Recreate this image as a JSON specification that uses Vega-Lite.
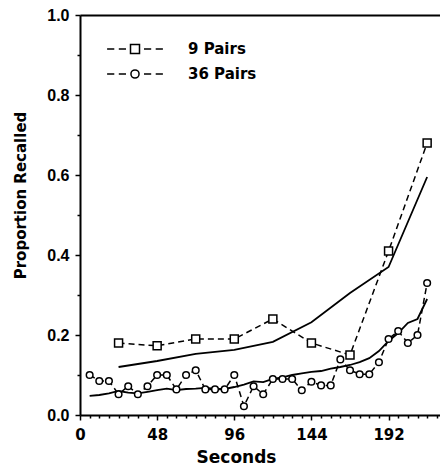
{
  "$schema": "https://vega.github.io/schema/vega-lite/v6.json",
  "width": 360,
  "height": 400,
  "autosize": {"type": "none"},
  "padding": {"left": 80, "top": 15, "right": 0, "bottom": 52},
  "background": "white",
  "config": {"view": {"stroke": null}, "font": "DejaVu Sans"},
  "datasets": {
    "observed": [
      {"series": "9 Pairs", "t": 24, "p": 0.18},
      {"series": "9 Pairs", "t": 48, "p": 0.173},
      {"series": "9 Pairs", "t": 72, "p": 0.19},
      {"series": "9 Pairs", "t": 96, "p": 0.19},
      {"series": "9 Pairs", "t": 120, "p": 0.24},
      {"series": "9 Pairs", "t": 144, "p": 0.18},
      {"series": "9 Pairs", "t": 168, "p": 0.15},
      {"series": "9 Pairs", "t": 192, "p": 0.41},
      {"series": "9 Pairs", "t": 216, "p": 0.68},
      {"series": "36 Pairs", "t": 6, "p": 0.1},
      {"series": "36 Pairs", "t": 12, "p": 0.085},
      {"series": "36 Pairs", "t": 18, "p": 0.085},
      {"series": "36 Pairs", "t": 24, "p": 0.052},
      {"series": "36 Pairs", "t": 30, "p": 0.072},
      {"series": "36 Pairs", "t": 36, "p": 0.052},
      {"series": "36 Pairs", "t": 42, "p": 0.072},
      {"series": "36 Pairs", "t": 48, "p": 0.1},
      {"series": "36 Pairs", "t": 54, "p": 0.1},
      {"series": "36 Pairs", "t": 60, "p": 0.064},
      {"series": "36 Pairs", "t": 66, "p": 0.1},
      {"series": "36 Pairs", "t": 72, "p": 0.112},
      {"series": "36 Pairs", "t": 78, "p": 0.064},
      {"series": "36 Pairs", "t": 84, "p": 0.064},
      {"series": "36 Pairs", "t": 90, "p": 0.064},
      {"series": "36 Pairs", "t": 96, "p": 0.1},
      {"series": "36 Pairs", "t": 102, "p": 0.022},
      {"series": "36 Pairs", "t": 108, "p": 0.072},
      {"series": "36 Pairs", "t": 114, "p": 0.052},
      {"series": "36 Pairs", "t": 120, "p": 0.09},
      {"series": "36 Pairs", "t": 126, "p": 0.09},
      {"series": "36 Pairs", "t": 132, "p": 0.09},
      {"series": "36 Pairs", "t": 138, "p": 0.062},
      {"series": "36 Pairs", "t": 144, "p": 0.083},
      {"series": "36 Pairs", "t": 150, "p": 0.074},
      {"series": "36 Pairs", "t": 156, "p": 0.074},
      {"series": "36 Pairs", "t": 162, "p": 0.139},
      {"series": "36 Pairs", "t": 168, "p": 0.112},
      {"series": "36 Pairs", "t": 174, "p": 0.102},
      {"series": "36 Pairs", "t": 180, "p": 0.102},
      {"series": "36 Pairs", "t": 186, "p": 0.132},
      {"series": "36 Pairs", "t": 192, "p": 0.19},
      {"series": "36 Pairs", "t": 198, "p": 0.21},
      {"series": "36 Pairs", "t": 204, "p": 0.18},
      {"series": "36 Pairs", "t": 210, "p": 0.2},
      {"series": "36 Pairs", "t": 216, "p": 0.33}
    ],
    "model": [
      {"series": "9 Pairs", "t": 24, "p": 0.12},
      {"series": "9 Pairs", "t": 48, "p": 0.135},
      {"series": "9 Pairs", "t": 72, "p": 0.153},
      {"series": "9 Pairs", "t": 96, "p": 0.163},
      {"series": "9 Pairs", "t": 120, "p": 0.183},
      {"series": "9 Pairs", "t": 144, "p": 0.232},
      {"series": "9 Pairs", "t": 168, "p": 0.305},
      {"series": "9 Pairs", "t": 192, "p": 0.37},
      {"series": "9 Pairs", "t": 216, "p": 0.595},
      {"series": "36 Pairs", "t": 6, "p": 0.048},
      {"series": "36 Pairs", "t": 12, "p": 0.05},
      {"series": "36 Pairs", "t": 18, "p": 0.054},
      {"series": "36 Pairs", "t": 24, "p": 0.06},
      {"series": "36 Pairs", "t": 30, "p": 0.056},
      {"series": "36 Pairs", "t": 36, "p": 0.054},
      {"series": "36 Pairs", "t": 42, "p": 0.058},
      {"series": "36 Pairs", "t": 48, "p": 0.062},
      {"series": "36 Pairs", "t": 54, "p": 0.066},
      {"series": "36 Pairs", "t": 60, "p": 0.062},
      {"series": "36 Pairs", "t": 66, "p": 0.065},
      {"series": "36 Pairs", "t": 72, "p": 0.066},
      {"series": "36 Pairs", "t": 78, "p": 0.068},
      {"series": "36 Pairs", "t": 84, "p": 0.066},
      {"series": "36 Pairs", "t": 90, "p": 0.065},
      {"series": "36 Pairs", "t": 96, "p": 0.07},
      {"series": "36 Pairs", "t": 102, "p": 0.076},
      {"series": "36 Pairs", "t": 108, "p": 0.084},
      {"series": "36 Pairs", "t": 114, "p": 0.082},
      {"series": "36 Pairs", "t": 120, "p": 0.09},
      {"series": "36 Pairs", "t": 126, "p": 0.094},
      {"series": "36 Pairs", "t": 132, "p": 0.1},
      {"series": "36 Pairs", "t": 138, "p": 0.104},
      {"series": "36 Pairs", "t": 144, "p": 0.108},
      {"series": "36 Pairs", "t": 150, "p": 0.11},
      {"series": "36 Pairs", "t": 156, "p": 0.116},
      {"series": "36 Pairs", "t": 162, "p": 0.12},
      {"series": "36 Pairs", "t": 168, "p": 0.125},
      {"series": "36 Pairs", "t": 174, "p": 0.132},
      {"series": "36 Pairs", "t": 180, "p": 0.142},
      {"series": "36 Pairs", "t": 186, "p": 0.16},
      {"series": "36 Pairs", "t": 192, "p": 0.185},
      {"series": "36 Pairs", "t": 198, "p": 0.205},
      {"series": "36 Pairs", "t": 204, "p": 0.23},
      {"series": "36 Pairs", "t": 210, "p": 0.24},
      {"series": "36 Pairs", "t": 216, "p": 0.29}
    ]
  },
  "encoding": {
    "y": {
      "field": "p",
      "type": "quantitative",
      "scale": {"domain": [0, 1], "nice": false},
      "axis": {
        "values": [0, 0.1, 0.2, 0.3, 0.4, 0.5, 0.6, 0.7, 0.8, 0.9, 1.0],
        "labelExpr": "round(datum.value*10) % 2 == 0 ? format(datum.value, '.1f') : ''",
        "tickSize": {"condition": {"test": "round(datum.value*10) % 2 == 0", "value": 5}, "value": 3},
        "domainColor": "black",
        "domainWidth": 2,
        "tickColor": "black",
        "tickWidth": 1.5,
        "labelFont": "Liberation Sans",
        "labelFontWeight": "bold",
        "labelFontSize": 16,
        "labelColor": "black",
        "labelPadding": 6,
        "labelFlush": false,
        "labelOverlap": false,
        "grid": false,
        "title": "Proportion Recalled",
        "titleFont": "DejaVu Sans",
        "titleFontWeight": "bold",
        "titleFontSize": 15,
        "titleColor": "black",
        "titleX": -60,
        "titleY": 180,
        "titleAngle": 270,
        "titleAlign": "center",
        "titleBaseline": "middle"
      }
    }
  },
  "layer": [
    {
      "data": {"name": "model"},
      "mark": {"type": "line", "color": "black", "strokeWidth": 1.8},
      "encoding": {
        "x": {
          "field": "t",
          "type": "quantitative",
          "scale": {"domain": [0, 224], "nice": false},
          "axis": {"orient": "top", "labels": false, "ticks": false, "title": null, "domainColor": "black", "domainWidth": 2, "grid": false}
        },
        "detail": {"field": "series"}
      }
    },
    {
      "data": {"name": "observed"},
      "mark": {"type": "line", "color": "black", "strokeWidth": 1.5, "strokeDash": [6, 4]},
      "encoding": {
        "x": {
          "field": "t",
          "type": "quantitative",
          "scale": {"domain": [0, 224], "nice": false},
          "axis": {
            "orient": "bottom",
            "values": [0, 6, 12, 18, 24, 30, 36, 42, 48, 54, 60, 66, 72, 78, 84, 90, 96, 102, 108, 114, 120, 126, 132, 138, 144, 150, 156, 162, 168, 174, 180, 186, 192, 198, 204, 210, 216, 222],
            "labelExpr": "datum.value % 48 == 0 ? format(datum.value, 'd') : ''",
            "tickSize": {"condition": {"test": "datum.value % 48 == 0", "value": 5}, "value": 3},
            "domainColor": "black",
            "domainWidth": 2,
            "tickColor": "black",
            "tickWidth": 1.5,
            "labelFont": "DejaVu Sans",
            "labelFontWeight": "bold",
            "labelFontSize": 15,
            "labelColor": "black",
            "labelPadding": 7,
            "labelFlush": false,
            "labelOverlap": false,
            "grid": false,
            "title": "Seconds",
            "titleFont": "DejaVu Sans",
            "titleFontWeight": "bold",
            "titleFontSize": 17,
            "titleColor": "black",
            "titleX": 156,
            "titleY": 47,
            "titleAlign": "center",
            "titleBaseline": "alphabetic"
          }
        },
        "detail": {"field": "series"}
      }
    },
    {
      "data": {"name": "observed"},
      "mark": {"type": "point", "fill": "white", "stroke": "black", "strokeWidth": 1.5, "opacity": 1},
      "encoding": {
        "x": {"field": "t", "type": "quantitative", "scale": {"domain": [0, 224], "nice": false}, "axis": null},
        "shape": {"field": "series", "type": "nominal", "scale": {"domain": ["9 Pairs", "36 Pairs"], "range": ["square", "circle"]}, "legend": null},
        "size": {"field": "series", "type": "nominal", "scale": {"domain": ["9 Pairs", "36 Pairs"], "range": [64, 44]}, "legend": null}
      }
    },
    {
      "data": {"name": "observed"},
      "mark": {"type": "point", "filled": false, "stroke": "black", "strokeWidth": 1.5, "opacity": 0},
      "encoding": {
        "x": {"field": "t", "type": "quantitative", "scale": {"domain": [0, 224], "nice": false}, "axis": null},
        "shape": {
          "field": "series",
          "type": "nominal",
          "scale": {
            "domain": ["9 Pairs", "36 Pairs"],
            "range": [
              "M-3.1,0H-2.3M-1.8,0H-1M1,0H1.8M2.3,0H3.1M-0.5,-0.5H0.5V0.5H-0.5Z",
              "M-3.1,0H-2.3M-1.8,0H-1M1,0H1.8M2.3,0H3.1M-0.45,0A0.45,0.45,0,1,1,0.45,0A0.45,0.45,0,1,1,-0.45,0Z"
            ]
          },
          "legend": {
            "orient": "none",
            "legendX": 45,
            "legendY": 24,
            "title": null,
            "padding": 0,
            "symbolSize": 324,
            "symbolStrokeColor": "black",
            "symbolStrokeWidth": 1.5,
            "symbolFillColor": "transparent",
            "symbolOpacity": 1,
            "labelFont": "DejaVu Sans",
            "labelFontWeight": "bold",
            "labelFontSize": 15,
            "labelColor": "black",
            "labelOffset": 43,
            "rowPadding": 7
          }
        }
      }
    }
  ],
  "resolve": {"axis": {"x": "independent"}, "scale": {"shape": "independent", "size": "independent"}}
}
